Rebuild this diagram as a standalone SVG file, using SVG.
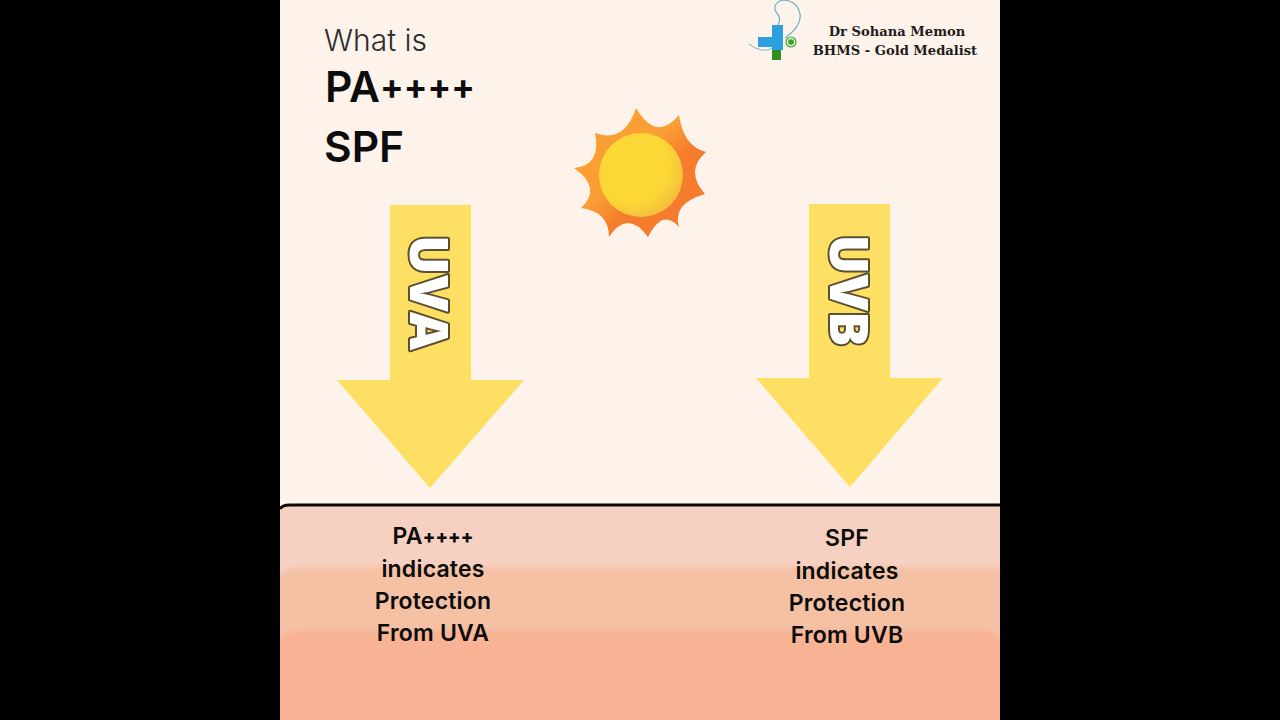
<svg xmlns="http://www.w3.org/2000/svg" width="1280" height="720" viewBox="0 0 1280 720">
<style>
.ttl{font-family:Inter,"Noto Sans",sans-serif;fill:#0c0c0c}
.cap{font-family:Inter,"Noto Sans",sans-serif;font-size:23px;font-weight:600;fill:#0c0c0c;text-anchor:middle;letter-spacing:.2px}
.plus{font-size:18.500px;font-weight:800;letter-spacing:0}
.ray{font-family:"Open Sans","Noto Sans",sans-serif;font-size:53px;font-weight:800;fill:#fff;stroke:#5c5030;stroke-width:4px;paint-order:stroke;stroke-linejoin:round;text-anchor:middle}
.arw{fill:#fcdf63}
.brand{font-family:"DejaVu Serif",serif;font-size:13.100px;font-weight:700;fill:#1c1c1c;text-anchor:middle}
</style>
<defs>
<linearGradient id="rays" x1="0.15" y1="0.15" x2="0.85" y2="0.85"><stop offset="0.4" stop-color="#fb9f35"/><stop offset="0.65" stop-color="#f47c2c"/></linearGradient>
<radialGradient id="core" cx="0.38" cy="0.38" r="0.75"><stop offset="0.6" stop-color="#fbd836"/><stop offset="1" stop-color="#f3b13e"/></radialGradient>
<filter id="soft" x="-5%" y="-5%" width="110%" height="110%"><feGaussianBlur stdDeviation="2"/></filter>
<clipPath id="skinclip"><rect x="280" y="506" width="720" height="214"/></clipPath>
</defs>
<rect width="1280" height="720" fill="#000"/>
<rect id="page" x="280" width="720" height="720" fill="#fdf3ea"/>
<g id="skin">
<path d="M280 720V512Q280 506 288 506H1000V720Z" fill="#f6d0c0"/>
<g clip-path="url(#skinclip)" filter="url(#soft)">
<path d="M270 730V590Q280 567 304 567H1010V730Z" fill="#f4c1a5"/>
<path d="M270 730V650Q280 630 304 630H985Q1000 632 1010 645V730Z" fill="#f8b395"/>
</g>
<path d="M280 509Q282 505 290 505H1000" fill="none" stroke="#0a0a0a" stroke-width="3"/>
</g>
<g id="title">
<text class="ttl" x="324" y="51" font-size="30" font-weight="300" style="fill:#2c2c2c">What is</text>
<text class="ttl" x="325" y="102" font-size="42.500" font-weight="600">PA<tspan font-size="35" font-weight="700" dy="-3">++++</tspan></text>
<text class="ttl" x="324" y="162" font-size="42.500" font-weight="600">SPF</text>
</g>
<g id="logo" fill="none">
<path d="M749 44Q762 54 773 48" stroke="#7fb4c4" stroke-width="1"/>
<path d="M772 60V44H781V60Z" fill="#2f8f1f" stroke="none"/>
<path d="M758 37H772V25H783V50H772V47H758Z" fill="#2c9fe0" stroke="none"/>
<path d="M785 38Q802 26 800 14Q797 0 782 0Q772 4 776 12Q782 18 778 25" stroke="#6fb0c4" stroke-width="1.200"/>
<circle cx="791" cy="42" r="5" fill="#dff0c8" stroke="#4aa33a" stroke-width="1.200"/>
<circle cx="791" cy="42" r="2.800" fill="#3a9a2e" stroke="none"/>
</g>
<g id="brand">
<text class="brand" x="897" y="36">Dr Sohana Memon</text>
<text class="brand" x="895" y="55">BHMS - Gold Medalist</text>
</g>
<g id="sun">
<path d="M636 108Q656.500 142.500 679 115Q683.500 146.500 706 152Q684.500 171 705 194Q672 203.500 679 227Q662.500 208 648 237Q627.500 209 609 237Q609 211.500 581 208Q602.500 188 574 168Q601.500 165.500 595 133Q624.500 143.500 636 108Z" fill="url(#rays)"/>
<circle cx="641" cy="175" r="42" fill="url(#core)"/>
</g>
<g id="uva">
<path class="arw" d="M390 205H471V380H524L430 488L337 380H390Z"/>
<text class="ray" transform="translate(410 292.500) rotate(90)">UVA</text>
</g>
<g id="uvb">
<path class="arw" d="M809 204H890V378H943L850 487L756 378H809Z"/>
<text class="ray" transform="translate(830 290.500) rotate(90)">UVB</text>
</g>
<g id="captions">
<text class="cap"><tspan x="433" y="544">PA<tspan class="plus" dy="-1.500">++++</tspan></tspan><tspan x="433" y="577">indicates</tspan><tspan x="433" y="609">Protection</tspan><tspan x="433" y="641">From UVA</tspan></text>
<text class="cap"><tspan x="847" y="546">SPF</tspan><tspan x="847" y="579">indicates</tspan><tspan x="847" y="611">Protection</tspan><tspan x="847" y="643">From UVB</tspan></text>
</g>
</svg>
